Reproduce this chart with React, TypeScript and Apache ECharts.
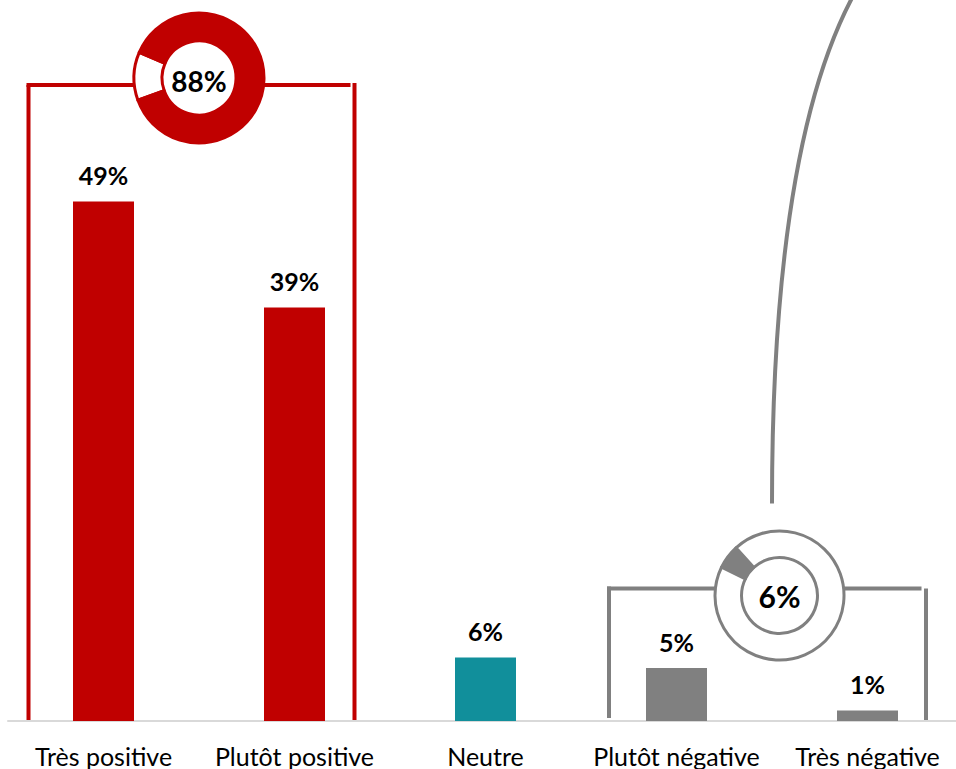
import React, { useEffect, useRef } from "react";
import * as echarts from "echarts";

const categories = ["Très positive", "Plutôt positive", "Neutre", "Plutôt négative", "Très négative"];
const values = [49, 39, 6, 5, 1];
const barColors = ["#C00000", "#C00000", "#118F9B", "#808080", "#808080"];
const positiveTotal = 88;
const negativeTotal = 6;
const yMax = 60;

const RED = "#C00000";
const GRAY = "#808080";
const FONT = "Lato";

export default function App() {
  const ref = useRef<HTMLDivElement>(null);
  useEffect(() => {
    document.body.style.margin = "0";
    document.body.style.overflow = "hidden";
    document.documentElement.style.overflow = "hidden";
    if (!ref.current) return;
    const chart = echarts.init(ref.current, null, { renderer: "svg" });
    const base: any = {
      animation: false,
      backgroundColor: "#ffffff",
      grid: { left: 8, right: 0, top: 85, bottom: 48, containLabel: false },
      xAxis: {
        type: "category",
        data: categories,
        axisLine: { show: true, lineStyle: { color: "#D9D9D9", width: 2 } },
        axisTick: { show: false },
        axisLabel: { color: "#000", fontSize: 25, fontFamily: FONT, margin: 22, interval: 0 },
      },
      yAxis: { type: "value", min: 0, max: yMax, show: false, splitLine: { show: false } },
      series: [
        {
          type: "bar",
          barWidth: 61,
          silent: true,
          data: values.map((v, i) => ({ value: v, itemStyle: { color: barColors[i] } })),
          label: {
            show: true,
            position: "top",
            distance: 14,
            formatter: "{c}%",
            color: "#000",
            fontWeight: "bold",
            fontSize: 25,
            fontFamily: FONT,
          },
        },
      ],
    };
    chart.setOption(base);

    const cx = (i: number) => chart.convertToPixel({ xAxisIndex: 0 }, categories[i]) as number;
    const vy = (v: number) => chart.convertToPixel({ yAxisIndex: 0 }, v) as number;
    const x0 = cx(0), x1 = cx(1), x3 = cx(3), x4 = cx(4);
    const yTop = vy(yMax);
    const yBase = vy(0);
    const redTop = yTop;
    const grayTop = vy(12.5);
    const redC = [(x0 + x1) / 2, redTop - 7];
    const grayC = [(x3 + x4) / 2 + 7.5, grayTop + 7];

    const redLines = { stroke: RED, lineWidth: 4 };
    const grayLines = { stroke: GRAY, lineWidth: 4 };

    chart.setOption({
      series: [
        base.series[0],
        {
          type: "pie",
          silent: true,
          center: redC,
          radius: [37, 65],
          startAngle: 200,
          clockwise: true,
          label: { show: false },
          labelLine: { show: false },
          z: 5,
          data: [
            { value: 100 - positiveTotal, itemStyle: { color: "#fff", borderColor: RED, borderWidth: 3 } },
            { value: positiveTotal, itemStyle: { color: RED, borderColor: RED, borderWidth: 3 } },
          ],
        },
        {
          type: "pie",
          silent: true,
          center: grayC,
          radius: [38, 64.5],
          startAngle: 154,
          clockwise: true,
          label: { show: false },
          labelLine: { show: false },
          z: 5,
          data: [
            { value: negativeTotal, itemStyle: { color: GRAY, borderColor: GRAY, borderWidth: 3 } },
            { value: 100 - negativeTotal, itemStyle: { color: "#fff", borderColor: GRAY, borderWidth: 3 } },
          ],
        },
      ],
      graphic: [
        // red bracket
        { type: "line", silent: true, shape: { x1: x0 - 75, y1: redTop, x2: x0 - 75, y2: yBase + 1 }, style: redLines },
        { type: "line", silent: true, shape: { x1: x0 - 77, y1: redTop, x2: redC[0] - 64, y2: redTop }, style: redLines },
        { type: "line", silent: true, shape: { x1: redC[0] + 64, y1: redTop, x2: x1 + 56, y2: redTop }, style: redLines },
        { type: "line", silent: true, shape: { x1: x1 + 60, y1: redTop - 2, x2: x1 + 60, y2: yBase + 1 }, style: redLines },
        {
          type: "text", silent: true, z: 10, x: redC[0], y: redC[1] + 3,
          style: { text: positiveTotal + "%", fill: "#000", font: `bold 28px ${FONT}`, align: "center", verticalAlign: "middle" },
        },
        // gray bracket
        { type: "line", silent: true, shape: { x1: x3 - 67.5, y1: grayTop - 2, x2: x3 - 67.5, y2: yBase - 3 }, style: grayLines },
        { type: "line", silent: true, shape: { x1: x3 - 69.5, y1: grayTop, x2: grayC[0] - 64, y2: grayTop }, style: grayLines },
        { type: "line", silent: true, shape: { x1: grayC[0] + 64, y1: grayTop, x2: x4 + 54, y2: grayTop }, style: grayLines },
        { type: "line", silent: true, shape: { x1: x4 + 58.5, y1: grayTop, x2: x4 + 58.5, y2: yBase + 1 }, style: grayLines },
        {
          type: "text", silent: true, z: 10, x: grayC[0], y: grayC[1],
          style: { text: negativeTotal + "%", fill: "#000", font: `bold 30px ${FONT}`, align: "center", verticalAlign: "middle" },
        },
        {
          type: "bezierCurve", silent: true,
          shape: { x1: (x3 + x4) / 2, y1: grayC[1] - 92, x2: (x3 + x4) / 2 + 80, y2: -2, cpx1: (x3 + x4) / 2, cpy1: 150 },
          style: { stroke: GRAY, lineWidth: 4, fill: "none" },
        },
      ],
    });
    return () => chart.dispose();
  }, []);
  return <div ref={ref} style={{ width: 963, height: 769 }} />;
}
